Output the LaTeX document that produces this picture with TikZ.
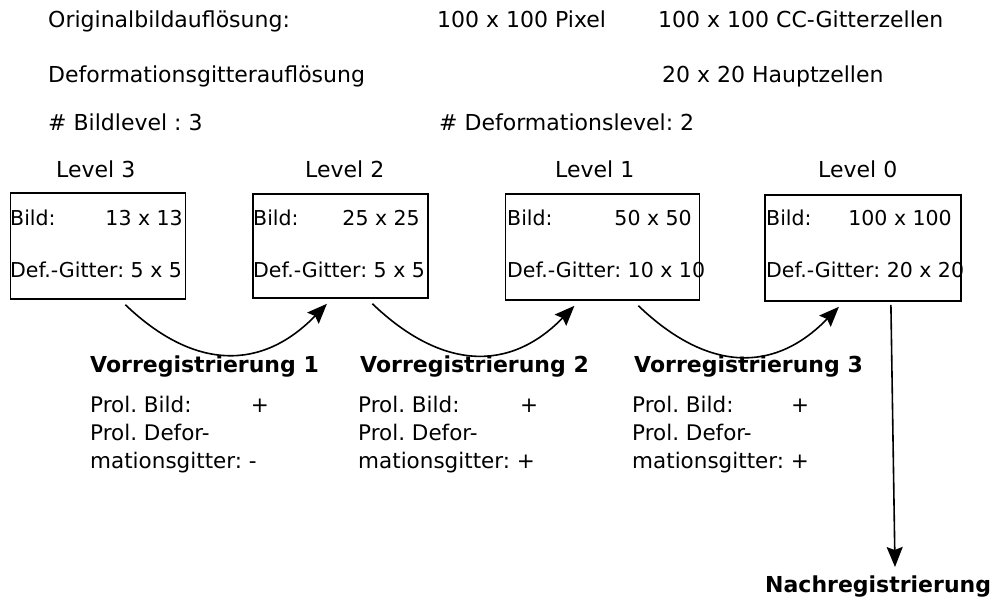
\documentclass[tikz,border=0pt]{standalone}
\usepackage{fontspec}
\setmainfont{DejaVu Sans}
\usetikzlibrary{arrows.meta,calc}
\tikzset{
  txt/.style={anchor=base west, inner sep=0pt, font=\fontsize{22}{26}\selectfont},
  prol/.style={anchor=base west, inner sep=0pt, font=\fontsize{21.5}{28}\selectfont},
  bx/.style={anchor=base west, inner sep=0pt, font=\fontsize{20.5}{24}\selectfont},
  bxr/.style={anchor=base east, inner sep=0pt, font=\fontsize{20.5}{24}\selectfont},
  head/.style={anchor=base west, inner sep=0pt, font=\fontsize{22}{26}\selectfont\bfseries},
  lvlbox/.style={draw, line width=1.8pt, anchor=north west, inner sep=0pt},
  conn/.style={line width=1.6pt, -{Stealth[length=20pt,width=16pt,inset=3pt]}}
}
\frenchspacing
\begin{document}
\begin{tikzpicture}[x=1pt,y=-1pt]
\useasboundingbox (0,0) rectangle (995,599);
% header
\node[txt] (t1) at (48,28) {Originalbildauflösung:};
\node[txt] (t2) at (437,28) {100 x 100 Pixel};
\node[txt] (t3) at (658,28) {100 x 100 CC-Gitterzellen};
\node[txt] (t4) at (48,83) {Deformationsgitterauflösung};
\node[txt] (t5) at (662,83) {20 x 20 Hauptzellen};
\node[txt] (t6) at (48,130) {\# Bildlevel : 3};
\node[txt] (t7) at (439,130) {\# Deformationslevel: 2};
% level labels
\node[txt] (l3) at (56,177) {Level 3};
\node[txt] (l2) at (305,177) {Level 2};
\node[txt] (l1) at (555,177) {Level 1};
\node[txt] (l0) at (818,177) {Level 0};
% boxes
\node[lvlbox, minimum width=175pt, minimum height=106pt] (b1) at (9.5,192) {};
\node[lvlbox, minimum width=175pt, minimum height=104pt] (b2) at (252,193) {};
\node[lvlbox, minimum width=194pt, minimum height=106pt] (b3) at (504.5,193) {};
\node[lvlbox, minimum width=196pt, minimum height=106pt] (b4) at (764,194) {};
% box texts
\node[bx] (b1a) at (10,225) {Bild:};
\node[bxr] (b1b) at (183,225) {13 x 13};
\node[bx] (b1c) at (10,277) {Def.-Gitter: 5 x 5};
\node[bx] (b2a) at (253,225) {Bild:};
\node[bxr] (b2b) at (420,225) {25 x 25};
\node[bx] (b2c) at (253,277) {Def.-Gitter: 5 x 5};
\node[bx] (b3a) at (507,225) {Bild:};
\node[bxr] (b3b) at (692,225) {50 x 50};
\node[bx] (b3c) at (507,277) {Def.-Gitter: 10 x 10};
\node[bx] (b4a) at (766,225) {Bild:};
\node[bxr] (b4b) at (952,225) {100 x 100};
\node[bx] (b4c) at (766,277) {Def.-Gitter: 20 x 20};
% curved arrows
\draw[conn] ([xshift=27.5pt,yshift=-5pt]b1.south) .. controls +(69,66) and +(-65,67) .. ([xshift=-13.5pt,yshift=-5pt]b2.south);
\draw[conn] ([xshift=32pt,yshift=-5pt]b2.south) .. controls +(69,66) and +(-65,67) .. ([xshift=-28pt,yshift=-5pt]b3.south);
\draw[conn] ([xshift=36pt,yshift=-5pt]b3.south) .. controls +(69,66) and +(-65,67) .. ([xshift=-24pt,yshift=-5pt]b4.south);
% Vorregistrierung blocks
\node[head] (v1) at (90,372) {Vorregistrierung 1};
\node[prol] (p1a) at (90,412) {Prol. Bild:};
\node[prol, anchor=base] (p1p) at (260,412) {+};
\node[prol] (p1b) at (90,440) {Prol. Defor-};
\node[prol] (p1c) at (90,468) {mationsgitter: -};
\node[head] (v2) at (360,372) {Vorregistrierung 2};
\node[prol] (p2a) at (358,412) {Prol. Bild:};
\node[prol, anchor=base] (p2p) at (529,412) {+};
\node[prol] (p2b) at (358,440) {Prol. Defor-};
\node[prol] (p2c) at (358,468) {mationsgitter: +};
\node[head] (v3) at (634,372) {Vorregistrierung 3};
\node[prol] (p3a) at (632,412) {Prol. Bild:};
\node[prol, anchor=base] (p3p) at (800,412) {+};
\node[prol] (p3b) at (632,440) {Prol. Defor-};
\node[prol] (p3c) at (632,468) {mationsgitter: +};
% Nachregistrierung
\node[head] (n) at (765,592) {Nachregistrierung};
\coordinate (nend) at (895,567);
\draw[conn] ([xshift=28pt,yshift=-3pt]b4.south) -- (nend);
\end{tikzpicture}
\end{document}
